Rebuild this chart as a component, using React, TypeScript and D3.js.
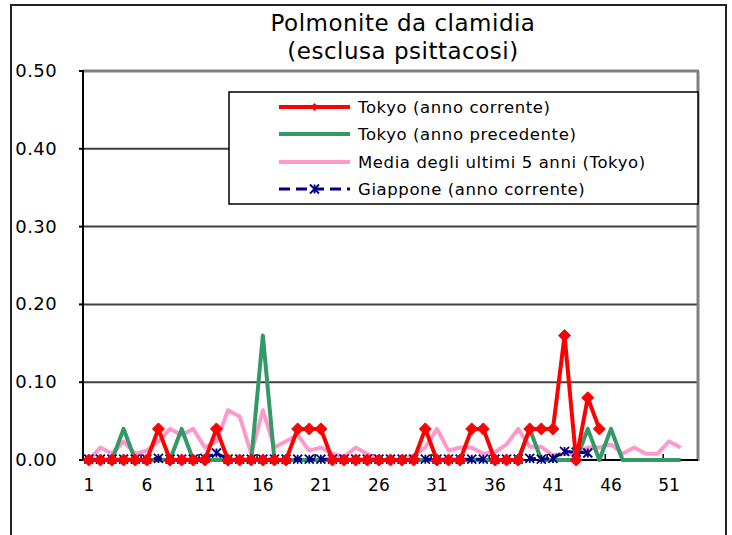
import React from "react";
import * as d3 from "d3";

const weeks = d3.range(1, 54);
const xTickWeeks = [1, 6, 11, 16, 21, 26, 31, 36, 41, 46, 51];
const yTicks = [0, 0.1, 0.2, 0.3, 0.4, 0.5];

const tokyoCurrent = [
  0, 0, 0, 0, 0, 0, 0.04, 0, 0, 0, 0, 0.04, 0, 0, 0, 0, 0, 0, 0.04, 0.04, 0.04, 0, 0, 0, 0, 0, 0, 0, 0, 0.04,
  0, 0, 0, 0.04, 0.04, 0, 0, 0, 0.04, 0.04, 0.04, 0.16, 0, 0.08, 0.04,
];
const tokyoPrev = [
  0, 0, 0, 0.04, 0, 0, 0, 0, 0.04, 0, 0, 0, 0, 0, 0, 0.16, 0, 0, 0, 0, 0, 0, 0, 0, 0, 0, 0, 0, 0, 0,
  0, 0, 0, 0, 0, 0, 0, 0, 0.04, 0, 0, 0, 0, 0.04, 0, 0.04, 0, 0, 0, 0, 0, 0,
];
const avg5 = [
  0, 0.016, 0.008, 0.024, 0.008, 0.012, 0.024, 0.04, 0.032, 0.04, 0.016, 0.024, 0.064, 0.056, 0.008, 0.064,
  0.016, 0.024, 0.032, 0.012, 0.016, 0.008, 0.004, 0.016, 0.008, 0, 0, 0, 0.006, 0.016, 0.04, 0.012, 0.016,
  0.016, 0.008, 0.01, 0.02, 0.04, 0.017, 0.017, 0.006, 0.008, 0.008, 0.016, 0.016, 0.02, 0.008, 0.016, 0.008,
  0.008, 0.024, 0.016,
];
const japan = [
  0.001, 0.001, 0.001, 0.001, 0.001, 0.001, 0.002, 0.001, 0.001, 0.001, 0.002, 0.009, 0.001, 0.001, 0.001,
  0.001, 0.001, 0.001, 0.001, 0.001, 0.001, 0.001, 0.001, 0.001, 0.001, 0.001, 0.001, 0.001, 0.001, 0.001,
  0.001, 0.001, 0.001, 0.001, 0.001, 0.001, 0.001, 0.001, 0.002, 0.001, 0.002, 0.011, 0.01, 0.009,
];
const seriesNames = [
  "Tokyo (anno corrente)",
  "Tokyo (anno precedente)",
  "Media degli ultimi 5 anni (Tokyo)",
  "Giappone (anno corrente)",
];
const titleLines = ["Polmonite da clamidia", "(esclusa psittacosi)"];

const RED = "#ff0000";
const GREEN = "#339966";
const PINK = "#ff99cc";
const NAVY = "#000080";
const FONT = "'DejaVu Sans', Verdana, sans-serif";

const L = 83, R = 698, T = 71, B = 460;

export default function App() {
  const x = d3.scaleLinear().domain([0.5, 53.5]).range([L, R]);
  const y = d3.scaleLinear().domain([0, 0.5]).range([B, T]);
  const line = d3
    .line<number>()
    .x((_, i) => x(i + 1))
    .y((d) => y(d));

  const diamond = (cx: number, cy: number, r: number) =>
    `M${cx},${cy - r}L${cx + r},${cy}L${cx},${cy + r}L${cx - r},${cy}Z`;
  const star = (cx: number, cy: number, r: number) =>
    `M${cx - r},${cy - r}L${cx + r},${cy + r}M${cx - r},${cy + r}L${cx + r},${cy - r}M${cx},${cy - r}L${cx},${cy + r}`;

  const legendRows = [107, 134, 162, 189];

  return (
    <svg width={732} height={535} style={{ position: "absolute", left: 0, top: 0, background: "#fff" }}>
      {/* outer frame */}
      <rect x={11} y={5} width={715} height={560} fill="#fff" stroke="#222" strokeWidth={2} />
      {/* title */}
      {titleLines.map((t, i) => (
        <text key={i} x={403} y={31 + i * 28} textAnchor="middle" fontFamily={FONT} fontSize={23} letterSpacing={0.5} fill="#000">
          {t}
        </text>
      ))}
      {/* gridlines */}
      {yTicks.slice(1, 5).map((v) => (
        <line key={v} x1={L} x2={R} y1={y(v)} y2={y(v)} stroke="#404040" strokeWidth={2} />
      ))}
      {/* plot area border (top/right) */}
      <line x1={L} x2={R + 1} y1={T} y2={T} stroke="#808080" strokeWidth={3} />
      <line x1={R} x2={R} y1={T} y2={B + 1} stroke="#808080" strokeWidth={3} />
      {/* y axis */}
      <line x1={L} x2={L} y1={T - 1} y2={B + 1} stroke="#000" strokeWidth={2} />
      {yTicks.map((v) => (
        <g key={v}>
          <line x1={L - 4} x2={L} y1={y(v)} y2={y(v)} stroke="#000" strokeWidth={2} />
          <text x={57} y={y(v) + 6} textAnchor="end" fontFamily={FONT} fontSize={18} letterSpacing={0.4} fill="#000">
            {v.toFixed(2)}
          </text>
        </g>
      ))}
      {/* x axis */}
      <line x1={L} x2={R} y1={B} y2={B} stroke="#000" strokeWidth={2} />
      {xTickWeeks.map((w) => (
        <g key={w}>
          <line x1={x(w - 0.5)} x2={x(w - 0.5)} y1={B} y2={B - 6} stroke="#000" strokeWidth={1.5} />
          <text x={x(w)} y={491} textAnchor="middle" fontFamily={FONT} fontSize={17} fill="#000">
            {w}
          </text>
        </g>
      ))}
      {/* series */}
      <path d={line(avg5) || ""} fill="none" stroke={PINK} strokeWidth={4} strokeLinejoin="round" />
      <path d={line(tokyoPrev) || ""} fill="none" stroke={GREEN} strokeWidth={4} strokeLinejoin="round" />
      <path d={line(japan) || ""} fill="none" stroke={NAVY} strokeWidth={3} strokeDasharray="8,5" />
      {japan.map((v, i) => (
        <path key={i} d={star(x(i + 1), y(v), 4.5)} stroke={NAVY} strokeWidth={1.8} fill="none" />
      ))}
      <path d={line(tokyoCurrent) || ""} fill="none" stroke={RED} strokeWidth={4} strokeLinejoin="round" />
      {tokyoCurrent.map((v, i) => (
        <path key={i} d={diamond(x(i + 1), y(v), 6)} fill={RED} stroke={RED} strokeWidth={1} />
      ))}
      {/* legend */}
      <rect x={229} y={92} width={469} height={112} fill="#fff" stroke="#000" strokeWidth={1.5} />
      <line x1={279} x2={350} y1={legendRows[0]} y2={legendRows[0]} stroke={RED} strokeWidth={4} />
      <path d={diamond(314.5, legendRows[0], 4)} fill={RED} />
      <line x1={279} x2={350} y1={legendRows[1]} y2={legendRows[1]} stroke={GREEN} strokeWidth={4} />
      <line x1={279} x2={350} y1={legendRows[2]} y2={legendRows[2]} stroke={PINK} strokeWidth={4} />
      <line x1={279} x2={350} y1={legendRows[3]} y2={legendRows[3]} stroke={NAVY} strokeWidth={3} strokeDasharray="11,6" />
      <path d={star(314.5, legendRows[3], 4.5)} stroke={NAVY} strokeWidth={1.8} fill="none" />
      {seriesNames.map((n, i) => (
        <text key={n} x={358} y={legendRows[i] + 6} fontFamily={FONT} fontSize={16.5} letterSpacing={0.6} fill="#000">
          {n}
        </text>
      ))}
    </svg>
  );
}
